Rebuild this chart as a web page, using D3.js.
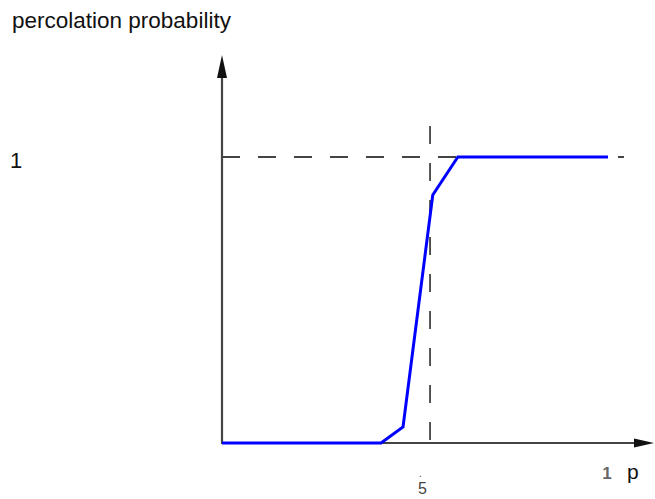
<!DOCTYPE html>
<html><head><meta charset="utf-8">
<script src="https://cdn.jsdelivr.net/npm/d3@7"></script>
<style>body{margin:0;background:#fff}svg{display:block}text{font-family:"Liberation Sans",Arial,sans-serif}</style>
</head><body>
<svg id="c" width="655" height="499"></svg>
<script>
// data
const pValues = [0, 0.412, 0.469, 0.546, 0.611, 1.0];
const percolation = [0, 0, 0.056, 0.867, 1, 1];
const threshold = 0.539;
const xTickLabels = [{v: threshold, t: ".5"}, {v: 1, t: "1"}];
const yTickLabels = [{v: 1, t: "1"}];
const title = "percolation probability";
const xName = "p";

const svg = d3.select("#c");
const x = d3.scaleLinear().domain([0, 1]).range([222, 608]);
const y = d3.scaleLinear().domain([0, 1]).range([443, 157]);
const axisCol = "#444";

// dashed reference lines
svg.append("line").attr("x1", x(0)).attr("x2", 624).attr("y1", y(1)).attr("y2", y(1))
  .attr("stroke", "#444").attr("stroke-width", 1.8).attr("stroke-dasharray", "18,18");
svg.append("line").attr("x1", x(threshold)).attr("x2", x(threshold)).attr("y1", 126).attr("y2", 456)
  .attr("stroke", "#444").attr("stroke-width", 1.8).attr("stroke-dasharray", "18,19");

// axes
svg.append("line").attr("x1", x(0)).attr("x2", x(0)).attr("y1", 444).attr("y2", 70)
  .attr("stroke", axisCol).attr("stroke-width", 2.2);
svg.append("line").attr("x1", x(0)).attr("x2", 640).attr("y1", 443).attr("y2", 443)
  .attr("stroke", axisCol).attr("stroke-width", 2.2);
svg.append("path").attr("d", "M222,55 L217,78 L227,78 Z").attr("fill", "#111");
svg.append("path").attr("d", "M654,443 L634,438.5 L634,447.5 Z").attr("fill", "#111");

// curve
svg.append("path").datum(pValues.map((p, i) => [p, percolation[i]]))
  .attr("d", d3.line().x(d => x(d[0])).y(d => y(d[1])))
  .attr("fill", "none").attr("stroke", "#0000ff").attr("stroke-width", 3)
  .attr("stroke-linejoin", "miter");

// labels
svg.append("text").attr("x", 12).attr("y", 28).attr("font-size", 22.5).attr("fill", "#111").text(title);
yTickLabels.forEach(d => svg.append("text").attr("x", 10).attr("y", y(d.v) + 11)
  .attr("font-size", 22).attr("fill", "#111").text(d.t));
// x tick labels
const t1 = xTickLabels[1];
svg.append("text").attr("x", x(t1.v) - 1).attr("y", 479).attr("text-anchor", "middle")
  .attr("font-size", 17).attr("font-weight", "bold").attr("fill", "#666").text(t1.t);
const t5 = xTickLabels[0];
const tx = svg.append("text").attr("font-size", 16).attr("fill", "#444");
tx.append("tspan").attr("x", x(t5.v) - 11).attr("y", 477).attr("font-size", 10).text(t5.t[0]);
tx.append("tspan").attr("x", x(t5.v) - 12).attr("y", 494).text(t5.t.slice(1));
svg.append("text").attr("x", 627).attr("y", 479).attr("font-size", 21).attr("fill", "#111").text(xName);
</script>
</body></html>
